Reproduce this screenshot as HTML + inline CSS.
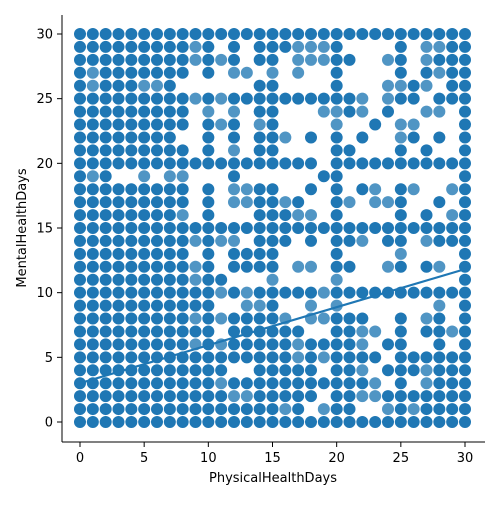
<!DOCTYPE html>
<html><head><meta charset="utf-8">
<style>
body{margin:0;background:#fff;}
svg text{font-family:"DejaVu Sans","Liberation Sans",sans-serif;fill:#000;}
</style></head>
<body>
<svg id="chart" width="500" height="500" viewBox="0 0 500 500" xmlns="http://www.w3.org/2000/svg">
<g id="points"></g>
<g id="reg"></g>
<g id="axes"></g>
</svg>
<script>
// MentalHealthDays rows 30..0; chars = PhysicalHealthDays 0..15 (left) and 16..30 (right)
// '#' = many observations, '+' = few, '.' = none
const yValues = [30,29,28,27,26,25,24,23,22,21,20,19,18,17,16,15,14,13,12,11,10,9,8,7,6,5,4,3,2,1,0];
const leftPatterns = [
"################","#########+#.#.##","#########+#+#.##","#+#######.#.++.+","#+###++#......##",
"#########+#+####","#########.+.+.##","#########.#+#.+#","########..#.#.##","#########.#.+.##",
"################","#+#..+.++...#...","#########.#.++##","#########.#.++##","########+.#...##",
"################","#########+#++.##","#########.#.####","#########+#.####","#########+##...+",
"###########+#+##","###########..++#","#########+#+####","###########.####","#########+#+####",
"################","############..##","###########+####","############++##","################",
"################"
];
const rightPatterns = [
"###############","#+++#....#.++##",".+++##..+#.+###",".+..#....#.#+##","....#...++#+.##",
"######+.+##.###","...++#+.#..++.#","....+..#.++...#","+.#.#.#..+#.#.#","....##...#.#..#",
"###.###########","...##.........#","..#.#.#+.#+..+#","+#..#+.++#..#.#","#++.#....#.#.+#",
"###############","#.#.##+.##.+###","....#....+....#",".++.##..+#.#+.#","....+.........#",
"###+###########","..+.+.......+.#","+.++###..#.+#.#","##..##++.#.##+#","#+####+.##..#.#",
"#+#+####.######","###.##+.###+###","#######+.#.+###","###.##++#######","+#.+##..+#+####",
"###############"
];
const xTicks = [0,5,10,15,20,25,30];
const yTicks = [0,5,10,15,20,25,30];
const regIntercept = [3.0];
const regSlope = [0.294];

const X0=80, X1=465, Y0=422, Y1=34;
const sx = v => X0 + (X1-X0)*v/30;
const sy = v => Y0 - (Y0-Y1)*v/30;
const NS="http://www.w3.org/2000/svg";
const col="#1f77b4";

const pts=document.getElementById('points');
yValues.forEach((yv,ri)=>{
  const row=(leftPatterns[ri]+'................').slice(0,16)+(rightPatterns[ri]+'...............').slice(0,15);
  for(let xv=0; xv<=30; xv++){
    const ch=row[xv];
    if(ch==='.') continue;
    const c=document.createElementNS(NS,'circle');
    c.setAttribute('cx',sx(xv));
    c.setAttribute('cy',sy(yv));
    c.setAttribute('r',6);
    c.setAttribute('fill',col);
    c.setAttribute('fill-opacity',ch==='#'?1:0.78);
    
    
    pts.appendChild(c);
  }
});

const reg=document.getElementById('reg');
const ln=document.createElementNS(NS,'line');
ln.setAttribute('x1',sx(0));ln.setAttribute('y1',sy(regIntercept[0]));
ln.setAttribute('x2',sx(30));ln.setAttribute('y2',sy(regIntercept[0]+regSlope[0]*30));
ln.setAttribute('stroke',col);ln.setAttribute('stroke-width',2.2);


reg.appendChild(ln);

const ax=document.getElementById('axes');
function mk(tag,attrs,text){const e=document.createElementNS(NS,tag);for(const k in attrs)e.setAttribute(k,attrs[k]);if(text!==undefined)e.textContent=text;ax.appendChild(e);return e;}
const yl=mk('line',{x1:62,y1:15,x2:62,y2:442,stroke:'#000','stroke-width':1});


const xl=mk('line',{x1:62,y1:442,x2:485,y2:442,stroke:'#000','stroke-width':1});


xTicks.forEach(t=>{
  const tk=mk('line',{x1:sx(t),y1:442,x2:sx(t),y2:447,stroke:'#000','stroke-width':1});
  
  
  const lb=mk('text',{x:sx(t),y:462,'text-anchor':'middle','font-size':13},String(t));
  
  
});
yTicks.forEach(t=>{
  const tk=mk('line',{x1:57,y1:sy(t),x2:62,y2:sy(t),stroke:'#000','stroke-width':1});
  
  
  const lb=mk('text',{x:53,y:sy(t)+4.5,'text-anchor':'end','font-size':13},String(t));
  
  
});
const xt=mk('text',{x:273,y:482,'text-anchor':'middle','font-size':13},'PhysicalHealthDays');


const yt=mk('text',{x:26,y:228,'text-anchor':'middle','font-size':13,transform:'rotate(-90 26 228)'},'MentalHealthDays');


</script>
</body></html>
